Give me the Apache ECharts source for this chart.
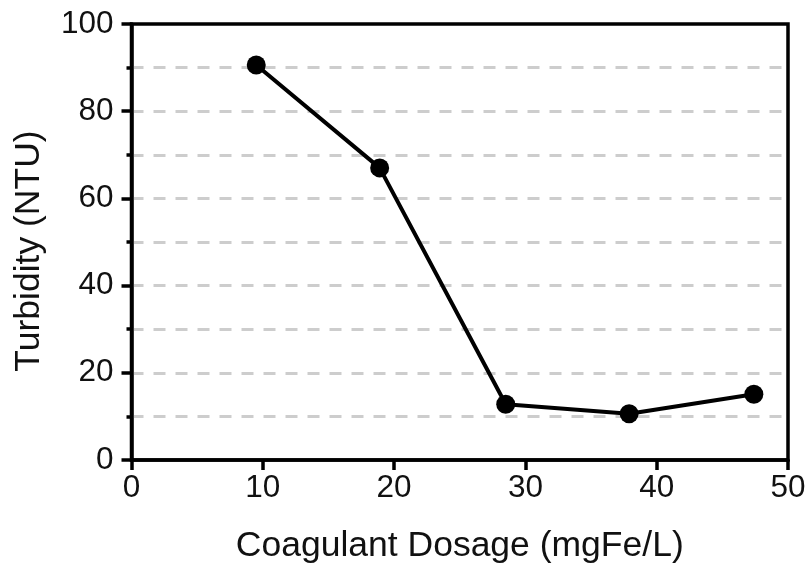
<!DOCTYPE html>
<html>
<head>
<meta charset="utf-8">
<script src="https://cdn.jsdelivr.net/npm/echarts@6/dist/echarts.min.js"></script>
<style>
html,body{margin:0;padding:0;background:#fff;}
#chart{width:809px;height:569px;}
</style>
</head>
<body>
<div id="chart"></div>
<script>
const dosage = [9.5, 18.9, 28.5, 37.9, 47.4];
const turbidity = [90.6, 67.0, 12.8, 10.6, 15.1];
const xTitle = 'Coagulant Dosage (mgFe/L)';
const yTitle = 'Turbidity (NTU)';

const chart = echarts.init(document.getElementById('chart'), null, {renderer: 'canvas'});
const font = 'Liberation Sans, Arial, Helvetica, sans-serif';
chart.setOption({
  animation: false,
  backgroundColor: '#fff',
  grid: {left: 131.5, right: 21, top: 24, bottom: 107, show: true, borderColor: '#000', borderWidth: 3.5, backgroundColor: 'transparent'},
  xAxis: {
    type: 'value', min: 0, max: 50, interval: 10,
    name: xTitle, nameLocation: 'middle', nameGap: 68,
    nameTextStyle: {fontSize: 35.5, color: '#111', fontFamily: font},
    axisLine: {show: true, onZero: false, lineStyle: {color: '#000', width: 3.5}},
    axisTick: {show: true, inside: false, length: 10, lineStyle: {color: '#000', width: 3.5}},
    axisLabel: {fontSize: 31.5, color: '#111', margin: 12, fontFamily: font},
    splitLine: {show: false}
  },
  yAxis: {
    type: 'value', min: 0, max: 100, interval: 20,
    name: yTitle, nameLocation: 'middle', nameGap: 84, nameRotate: 90,
    nameTextStyle: {fontSize: 35.5, color: '#111', fontFamily: font, padding: [0, 18, 0, 0]},
    axisLine: {show: true, onZero: false, lineStyle: {color: '#000', width: 3.5}},
    axisTick: {show: true, inside: false, length: 10, lineStyle: {color: '#000', width: 3.5}},
    minorTick: {show: true, splitNumber: 2, length: 5, lineStyle: {color: '#000', width: 3.5}},
    axisLabel: {fontSize: 31.5, color: '#111', margin: 18, fontFamily: font},
    splitLine: {show: true, showMinLine: false, showMaxLine: false, lineStyle: {color: '#cdcdcd', width: 3, type: [12, 10]}},
    minorSplitLine: {show: true, lineStyle: {color: '#cdcdcd', width: 3, type: [12, 10]}}
  },
  series: [{
    type: 'line',
    data: dosage.map((d, i) => [d, turbidity[i]]),
    symbol: 'circle', symbolSize: 19,
    itemStyle: {color: '#000'},
    lineStyle: {color: '#000', width: 4},
    z: 5
  }]
});
</script>
</body>
</html>
